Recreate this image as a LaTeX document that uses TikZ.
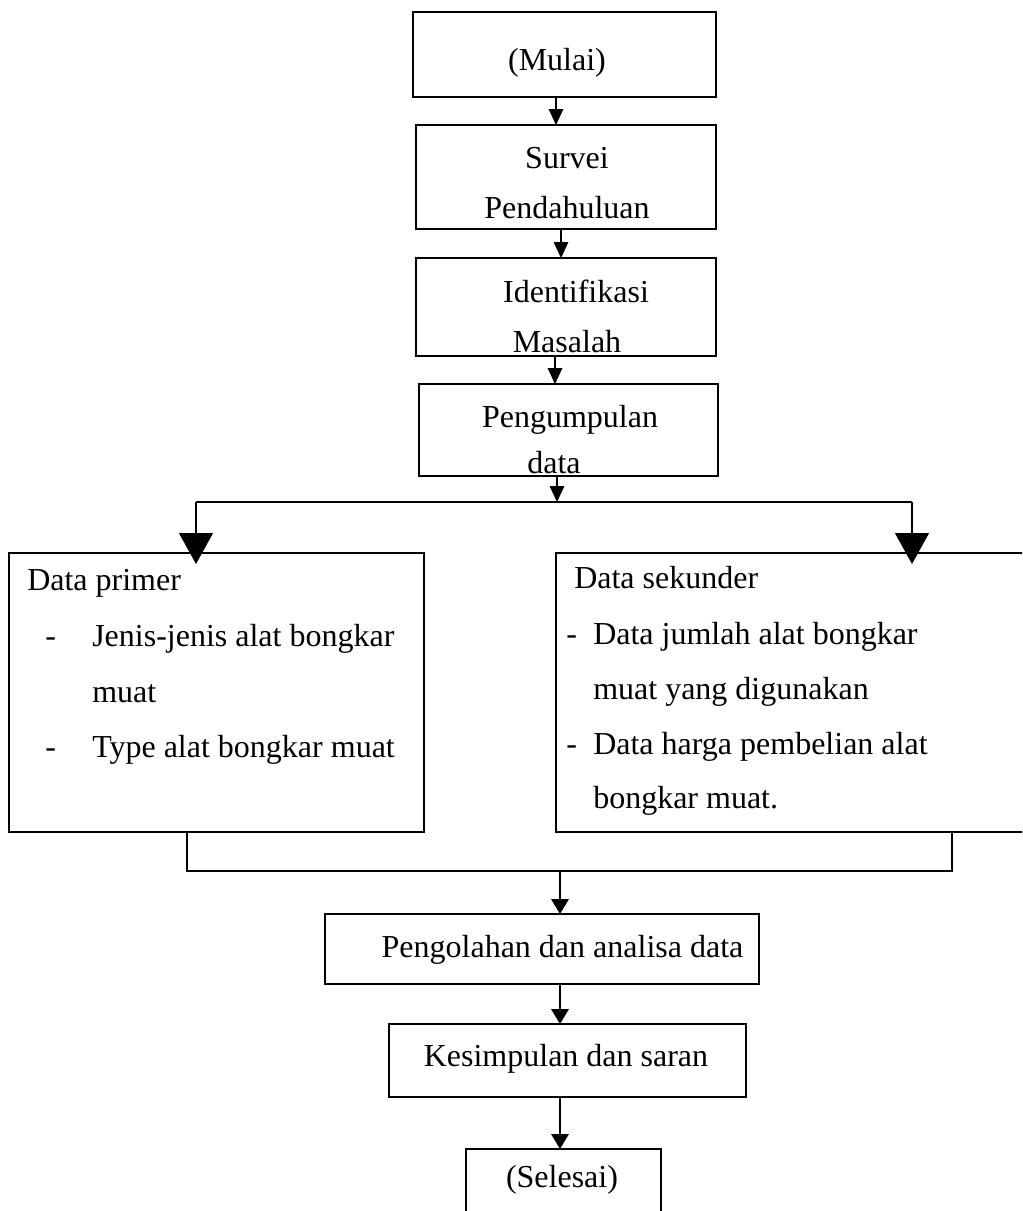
\documentclass[tikz,border=0pt]{standalone}
\usepackage{fontspec}
\setmainfont{Liberation Serif}
\usetikzlibrary{arrows.meta}
\newcommand\mkbox[6]{\node[#6, minimum width={(#4-#2)*0.75pt}, minimum height={(#5-#3)*0.75pt}] (#1) at ({(#2+#4)/2},{(#3+#5)/2}) {};}
\begin{document}
\begin{tikzpicture}[x=0.75pt,y=-0.75pt,
  box/.style={draw, line width=1pt, inner sep=0pt, outer sep=0pt},
  dbox/.style={draw, line width=1.5pt, inner sep=0pt, outer sep=0pt},
  txt/.style={inner sep=0pt, font=\fontsize{24}{28}\selectfont},
  arr/.style={line width=0.8pt, -{Triangle[length=12pt,width=11pt]}},
  bigarr/.style={line width=0.8pt, -{Triangle[length=23.25pt,width=25.5pt]}},
  thinline/.style={line width=0.8pt},
  botline/.style={line width=1.6pt},
  botarr/.style={line width=1.6pt, -{Triangle[length=11.25pt,width=13pt]}}]
\useasboundingbox (0,0) rectangle (1022,1211);
\clip (0,0) rectangle (1022,1211);
% boxes
\mkbox{mulai}{413}{12}{716}{97}{box}
\mkbox{survei}{416}{125}{716}{229}{box}
\mkbox{ident}{416}{258}{716}{356}{box}
\mkbox{kumpul}{419}{384}{718}{476}{box}
\mkbox{primer}{8.5}{553}{424}{832}{dbox}
\mkbox{sekunder}{556}{553}{1030}{832}{dbox}
\mkbox{olah}{325}{914}{759}{984}{box}
\mkbox{simpul}{389}{1024}{746}{1097}{box}
\mkbox{selesai}{466}{1149}{661}{1220}{box}
% texts
\node[txt, anchor=base] (tMulai) at (557,70) {(Mulai)};
\node[txt, anchor=base] (tSurvei1) at (567,168) {Survei};
\node[txt, anchor=base] (tSurvei2) at (567,218) {Pendahuluan};
\node[txt, anchor=base] (tIdent1) at (576,302) {Identifikasi};
\node[txt, anchor=base] (tIdent2) at (567,352) {Masalah};
\node[txt, anchor=base] (tKumpul1) at (570,427) {Pengumpulan};
\node[txt, anchor=base] (tKumpul2) at (554,473.5) {data};
\node[txt, anchor=base west] (tP0) at (27,590) {Data primer};
\node[txt, anchor=base west] (tPd1) at (45,646) {-};
\node[txt, anchor=base west] (tP1) at (92,646) {Jenis-jenis alat bongkar};
\node[txt, anchor=base west] (tP2) at (92,702) {muat};
\node[txt, anchor=base west] (tPd2) at (45,757) {-};
\node[txt, anchor=base west] (tP3) at (92,757) {Type alat bongkar muat};
\node[txt, anchor=base west] (tS0) at (574,588) {Data sekunder};
\node[txt, anchor=base west] (tSd1) at (566,644) {-};
\node[txt, anchor=base west] (tS1) at (593,644) {Data jumlah alat bongkar};
\node[txt, anchor=base west] (tS2) at (593,699) {muat yang digunakan};
\node[txt, anchor=base west] (tSd2) at (566,754) {-};
\node[txt, anchor=base west] (tS3) at (593,754) {Data harga pembelian alat};
\node[txt, anchor=base west] (tS4) at (593,808) {bongkar muat.};
\node[txt, anchor=base] (tOlah) at (562.5,957) {Pengolahan dan analisa data};
\node[txt, anchor=base] (tSimpul) at (566,1066) {Kesimpulan dan saran};
\node[txt, anchor=base] (tSelesai) at (562,1187) {(Selesai)};
% junction coordinates
\coordinate (hm) at (557,502);
\coordinate (hl) at (196,502);
\coordinate (hr) at (912,502);
\coordinate (jl) at (187,871);
\coordinate (jr) at (952,871);
\coordinate (jm) at (560,871);
% top arrows
\draw[arr] (mulai.south -| 556,0) -- (survei.north -| 556,0);
\draw[arr] (survei.south -| 561,0) -- (ident.north -| 561,0);
\draw[arr] (ident.south -| 555,0) -- (kumpul.north -| 555,0);
\draw[arr] (kumpul.south -| hm) -- (hm);
% branch
\draw[thinline] (hl) -- (hr);
\draw[bigarr, shorten >=-8.25pt] (hl) -- (hl |- primer.north);
\draw[bigarr, shorten >=-8.25pt] (hr) -- (hr |- sekunder.north);
% merge
\draw[botline] (primer.south -| jl) -- (jl) -- (jr) -- (sekunder.south -| jr);
\draw[botarr] (jm) -- (olah.north -| jm);
\draw[botarr] (olah.south -| jm) -- (simpul.north -| jm);
\draw[botarr] (simpul.south -| jm) -- (selesai.north -| jm);
\end{tikzpicture}
\end{document}
